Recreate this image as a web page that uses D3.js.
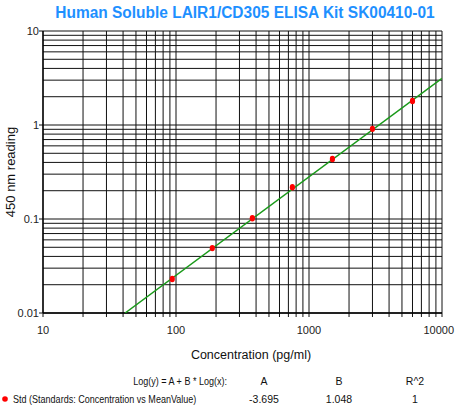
<!DOCTYPE html>
<html><head><meta charset="utf-8">
<script src="https://cdn.jsdelivr.net/npm/d3@7"></script>
<style>body{margin:0;background:#fff}svg{display:block}text{font-family:"Liberation Sans",Arial,sans-serif}</style>
</head><body><svg id="c" width="455" height="406"></svg>
<script>
const title = "Human Soluble LAIR1/CD305 ELISA Kit SK00410-01";
const concentrations = [93.75, 187.5, 375, 750, 1500, 3000, 6000];
const readings = [0.023, 0.049, 0.102, 0.218, 0.435, 0.91, 1.80];
const xTicks = [10, 100, 1000, 10000];
const yTicks = [0.01, 0.1, 1, 10];
const yTickLabels = ["0.01", "0.1", "1", "10"];
const fitA = -3.695, fitB = 1.048, fitR2 = 1;
const legendHeaders = ["A", "B", "R^2"];
const legendValues = ["-3.695", "1.048", "1"];

const svg = d3.select("#c");
const L = 43, R = 442, T = 31, B = 313;
const x = d3.scaleLog().domain([10, 10000]).range([L, R]);
const y = d3.scaleLog().domain([0.01, 10]).range([B, T]);

svg.append("text").attr("transform", "translate(245,18) scale(0.91,1)").attr("text-anchor", "middle")
  .attr("fill", "#1e90ff").attr("font-weight", "bold").attr("font-size", 17).text(title);

// grid
const minorX = [];
for (let d = 10; d < 10000; d *= 10) for (let k = 1; k <= 10; k++) minorX.push(+(d * k).toPrecision(3));
const minorY = [];
for (let d = 0.01; d < 9; d *= 10) for (let k = 1; k <= 10; k++) minorY.push(+(d * k).toPrecision(3));
const g = svg.append("g");
g.selectAll(".vx").data(Array.from(new Set(minorX))).join("line")
  .attr("x1", d => x(d)).attr("x2", d => x(d)).attr("y1", T).attr("y2", B + 4)
  .attr("stroke", "#111").attr("stroke-width", 1);
g.selectAll(".hy").data(Array.from(new Set(minorY))).join("line")
  .attr("x1", L).attr("x2", R).attr("y1", d => y(d)).attr("y2", d => y(d))
  .attr("stroke", "#111").attr("stroke-width", 1);
g.selectAll(".ty").data(yTicks).join("line")
  .attr("x1", L - 4).attr("x2", L).attr("y1", d => y(d)).attr("y2", d => y(d)).attr("stroke", "#111");
svg.append("line").attr("x1", L).attr("x2", L).attr("y1", T).attr("y2", B).attr("stroke", "#000").attr("stroke-width", 1.3);
svg.append("line").attr("x1", L).attr("x2", R).attr("y1", B).attr("y2", B).attr("stroke", "#000").attr("stroke-width", 1.3);

// tick labels
svg.selectAll(".yl").data(yTicks).join("text")
  .attr("x", L - 4).attr("y", d => y(d) + 4).attr("text-anchor", "end")
  .attr("font-size", 11).attr("fill", "#222").text((d, i) => yTickLabels[i]);
svg.selectAll(".xl").data(xTicks).join("text")
  .attr("x", (d, i) => i === xTicks.length - 1 ? 454 : x(d)).attr("y", 334)
  .attr("text-anchor", (d, i) => i === xTicks.length - 1 ? "end" : "middle")
  .attr("font-size", 11).attr("fill", "#222").text(d => d3.format("d")(d));

svg.append("text").attr("x", 251).attr("y", 359).attr("text-anchor", "middle")
  .attr("font-size", 12.5).attr("fill", "#111").text("Concentration (pg/ml)");
svg.append("text").attr("transform", "translate(15,172) rotate(-90)").attr("text-anchor", "middle")
  .attr("font-size", 13).attr("fill", "#111").text("450 nm reading");

// fit line
const fx = d => Math.pow(10, fitA + fitB * Math.log10(d));
const x0 = Math.pow(10, (Math.log10(0.01) - fitA) / fitB);
const lineData = [x0, 10000];
svg.append("clipPath").attr("id", "pc").append("rect").attr("x", L).attr("y", T).attr("width", R - L).attr("height", B - T);
svg.append("path").attr("clip-path", "url(#pc)")
  .attr("d", d3.line().x(d => x(d)).y(d => y(fx(d)))(lineData))
  .attr("stroke", "#1a9a1a").attr("stroke-width", 1.5).attr("fill", "none");

// points
svg.selectAll(".pt").data(concentrations).join("ellipse")
  .attr("cx", d => x(d)).attr("cy", (d, i) => y(readings[i]))
  .attr("rx", 2.6).attr("ry", 3.2).attr("fill", "#ff0000");

// legend table
const colX = [264, 339, 415];
svg.append("text").attr("transform", "translate(227,385) scale(0.86,1)").attr("text-anchor", "end")
  .attr("font-size", 10.5).attr("fill", "#111").text("Log(y) = A + B * Log(x):");
svg.selectAll(".lh").data(legendHeaders).join("text").attr("x", (d, i) => colX[i]).attr("y", 385)
  .attr("text-anchor", "middle").attr("font-size", 10.5).attr("fill", "#111").text(d => d);
svg.append("circle").attr("cx", 5).attr("cy", 399).attr("r", 2.8).attr("fill", "#ff0000");
svg.append("text").attr("transform", "translate(13,403) scale(0.86,1)").attr("font-size", 10.5).attr("fill", "#111")
  .text("Std (Standards: Concentration vs MeanValue)");
svg.selectAll(".lv").data(legendValues).join("text").attr("x", (d, i) => colX[i]).attr("y", 403)
  .attr("text-anchor", "middle").attr("font-size", 10.5).attr("fill", "#111").text(d => d);
</script></body></html>
